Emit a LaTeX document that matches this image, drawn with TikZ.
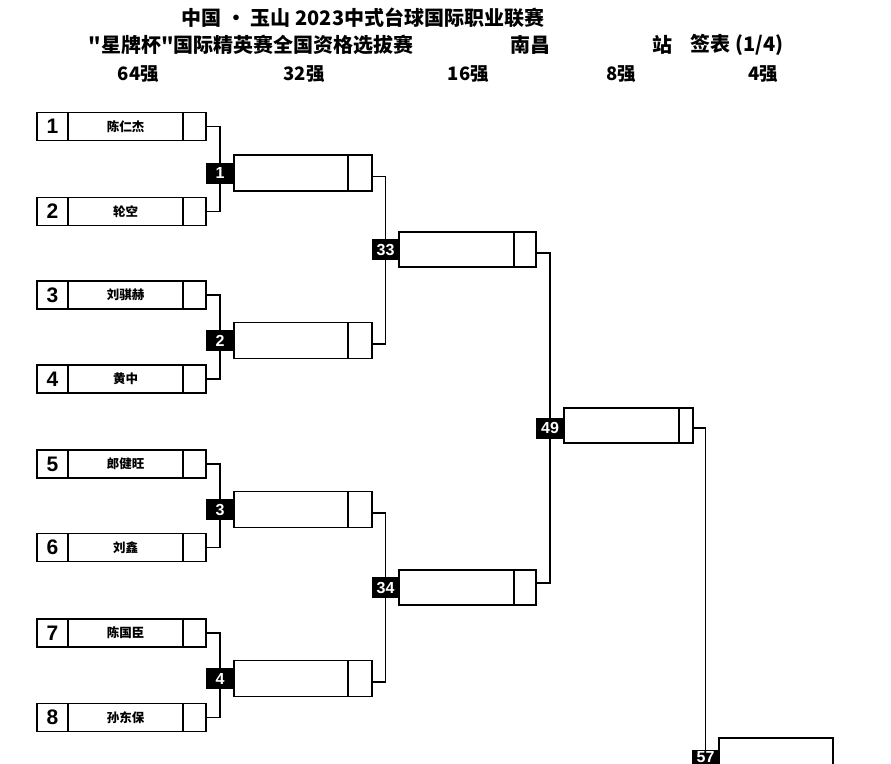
\documentclass[tikz,border=0pt]{standalone}
\usepackage{fontspec}
\setmainfont{Liberation Sans}
\newfontfamily\cjk{Noto Sans CJK SC}
\begin{document}
\begin{tikzpicture}[x=1pt,y=-1pt,line width=1.2pt,
  cell/.style={draw=black,rectangle,inner sep=0pt,outer sep=0pt},
  seedcell/.style={cell,minimum width=31,minimum height=28,font=\fontsize{21}{21}\selectfont\bfseries},
  namecell/.style={cell,minimum width=115,minimum height=28,font=\cjk\fontsize{12.5}{12.5}\selectfont\bfseries},
  scorecell/.style={cell,minimum width=23,minimum height=28},
  lab/.style={fill=black,text=white,rectangle,inner sep=0pt,outer sep=0pt,minimum height=21,font=\fontsize{16}{16}\selectfont\bfseries},
  ttl/.style={inner sep=0pt,font=\cjk\fontsize{20}{20}\selectfont\bfseries},
  rnd/.style={inner sep=0pt,font=\cjk\fontsize{18.5}{18.5}\selectfont\bfseries},
  wire/.style={draw=black,line width=1.2pt}]
\useasboundingbox (0,0) rectangle (891,763);
\clip (0,0) rectangle (891,763);
% titles
\node[ttl] (t1) at (363,18) {中国 · 玉山 2023中式台球国际职业联赛};
\node[ttl,anchor=west] (t2) at (88,45) {"星牌杯"国际精英赛全国资格选拔赛};
\node[ttl,anchor=west] (t3) at (510,45) {南昌};
\node[ttl,anchor=west] (t4) at (652,45) {站};
\node[ttl,anchor=west] (t5) at (690,45) {签表 (1/4)};
\node[rnd] (h1) at (138.5,74) {64强};
\node[rnd] (h2) at (304,74) {32强};
\node[rnd] (h3) at (468.5,74) {16强};
\node[rnd] (h4) at (621,74) {8强};
\node[rnd] (h5) at (763.5,74) {4强};
% players
\foreach \i/\y/\nm in {1/126.5/陈仁杰,2/211.5/轮空,3/295/刘骐赫,4/379/黄中,5/464/郎健旺,6/547.5/刘鑫,7/633/陈国臣,8/717.5/孙东保}{
  \node[seedcell] (pn\i) at (52.5,\y) {\i};
  \node[namecell,anchor=west] (pm\i) at (pn\i.east) {\nm};
  \node[scorecell,anchor=west] (ps\i) at (pm\i.east) {};
}
% round of 32 boxes
\foreach \j/\y in {1/173,2/340.5,3/509.5,4/678.5}{
  \node[cell,minimum width=114,minimum height=36,anchor=west] (w\j) at (234,\y) {};
  \node[cell,minimum width=24,minimum height=36,anchor=west] (w\j s) at (w\j.east) {};
  \node[lab,minimum width=28] (r\j) at (220,\y) {\j};
}
\draw[wire] (ps1.east) -| (r1.north);
\draw[wire] (ps2.east) -| (r1.south);
\draw[wire] (ps3.east) -| (r2.north);
\draw[wire] (ps4.east) -| (r2.south);
\draw[wire] (ps5.east) -| (r3.north);
\draw[wire] (ps6.east) -| (r3.south);
\draw[wire] (ps7.east) -| (r4.north);
\draw[wire] (ps8.east) -| (r4.south);
% round of 16 boxes
\foreach \k/\y in {33/249.5,34/587.5}{
  \node[cell,minimum width=115,minimum height=35,anchor=west] (v\k) at (399,\y) {};
  \node[cell,minimum width=22,minimum height=35,anchor=west] (v\k s) at (v\k.east) {};
  \node[lab,minimum width=27] (r\k) at (385.5,\y) {\k};
}
\draw[wire] ([yshift=-3.5]w1s.east) -| (r33.north);
\draw[wire] ([yshift=-3.5]w2s.east) -| (r33.south);
\draw[wire] ([yshift=-3.5]w3s.east) -| (r34.north);
\draw[wire] ([yshift=-3.5]w4s.east) -| (r34.south);
% quarter final
\node[cell,minimum width=115,minimum height=35,anchor=west] (x49) at (564,425.5) {};
\node[cell,minimum width=14,minimum height=35,anchor=west] (x49s) at (x49.east) {};
\node[lab,minimum width=28] (r49) at (550,428) {49};
\draw[wire] ([yshift=-3.5]v33s.east) -| (r49.north);
\draw[wire] ([yshift=4.5]v34s.east) -| (r49.south);
% semi final
\node[cell,minimum width=114,minimum height=40,anchor=north west] (y57) at (719,738) {};
\node[lab,minimum width=27,minimum height=0,text height=12,text depth=10,anchor=north] (r57) at (705.5,750) {57};
\draw[wire] ([yshift=-2.5]x49s.east) -| (r57.north);
\end{tikzpicture}
\end{document}
